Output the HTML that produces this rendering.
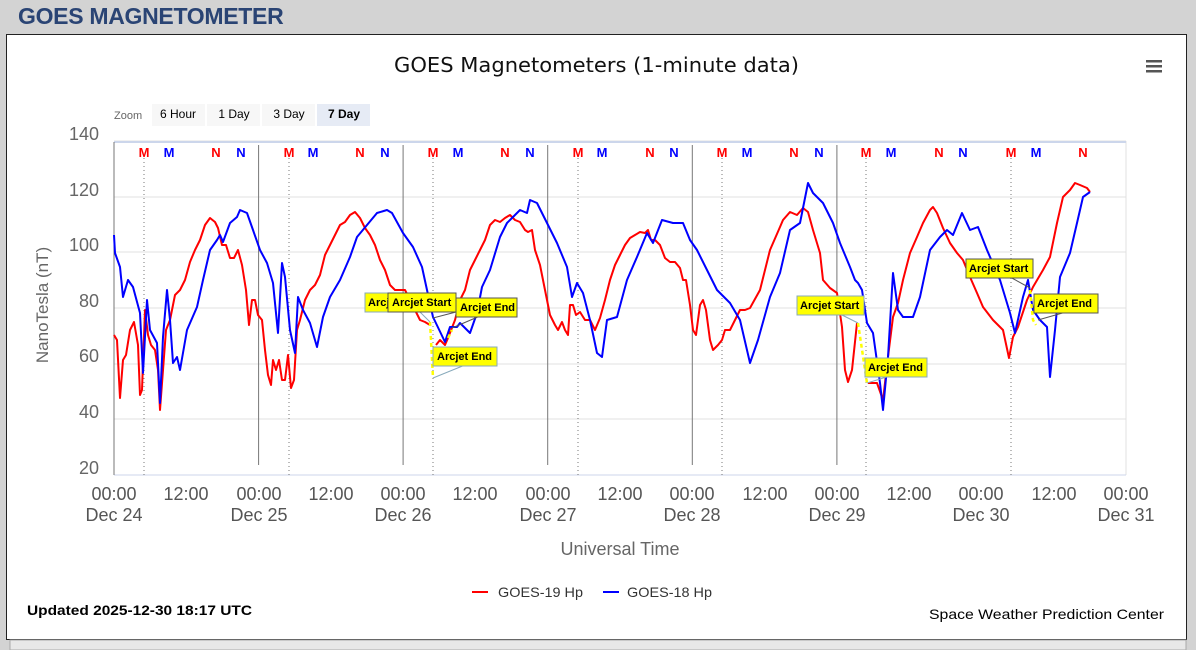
<!DOCTYPE html>
<html><head><meta charset="utf-8"><style>
body{margin:0;width:1196px;height:650px;background:#d3d3d3;overflow:hidden;font-family:"Liberation Sans",sans-serif}
.h{position:absolute;left:18px;top:3px;font-weight:bold;font-size:23px;color:#2a4474;letter-spacing:-0.3px}
.box{position:absolute;left:6px;top:34px;width:1179px;height:604px;background:#fff;border:1px solid #222}
</style></head><body>
<div class="h">GOES MAGNETOMETER</div>
<div class="box"></div>
<svg width="1196" height="650" style="position:absolute;left:0;top:0" font-family="Liberation Sans, sans-serif">
<rect x="10" y="640" width="1176" height="10" fill="#e8e8e8" stroke="#aaa"/>
<text x="394" y="72" font-size="20" fill="#111" font-family="DejaVu Sans, sans-serif" textLength="405" lengthAdjust="spacingAndGlyphs">GOES Magnetometers (1-minute data)</text>
<g fill="#555"><rect x="1146" y="60" width="16" height="2.5"/><rect x="1146" y="65" width="16" height="2.5"/><rect x="1146" y="70" width="16" height="2.5"/></g>
<text x="114" y="119" font-size="11" fill="#666">Zoom</text>
<rect x="152" y="104" width="53" height="22" fill="#f7f7f7"/><text x="178" y="118" font-size="12" text-anchor="middle">6 Hour</text>
<rect x="207" y="104" width="53" height="22" fill="#f7f7f7"/><text x="234" y="118" font-size="12" text-anchor="middle">1 Day</text>
<rect x="262" y="104" width="53" height="22" fill="#f7f7f7"/><text x="289" y="118" font-size="12" text-anchor="middle">3 Day</text>
<rect x="317" y="104" width="53" height="22" fill="#e6ebf5"/><text x="344" y="118" font-size="12" font-weight="bold" text-anchor="middle">7 Day</text>
<g stroke="#e0e0e0"><line x1="114" x2="1126" y1="141" y2="141"/><line x1="114" x2="1126" y1="197" y2="197"/><line x1="114" x2="1126" y1="252" y2="252"/><line x1="114" x2="1126" y1="308" y2="308"/><line x1="114" x2="1126" y1="364" y2="364"/><line x1="114" x2="1126" y1="419" y2="419"/><line x1="1126" x2="1126" y1="141" y2="475"/></g>
<line x1="114" x2="1126" y1="142" y2="142" stroke="#ccd6eb" stroke-width="2"/>
<line x1="114" x2="1126" y1="475" y2="475" stroke="#ccd6eb"/>
<g fill="#666" font-size="18" text-anchor="end"><text x="99" y="140">140</text><text x="99" y="251">100</text><text x="99" y="196">120</text><text x="99" y="307">80</text><text x="99" y="362">60</text><text x="99" y="418">40</text><text x="99" y="474">20</text></g>
<text transform="translate(48,305) rotate(-90)" text-anchor="middle" font-size="17" fill="#666">NanoTesla (nT)</text>
<g stroke="#777"><line x1="114" x2="114" y1="142" y2="475"/><line x1="258.6" x2="258.6" y1="145" y2="465"/><line x1="403.1" x2="403.1" y1="145" y2="465"/><line x1="547.7" x2="547.7" y1="145" y2="465"/><line x1="692.3" x2="692.3" y1="145" y2="465"/><line x1="836.9" x2="836.9" y1="145" y2="465"/></g>
<g stroke="#777" stroke-dasharray="1,3"><line x1="144" x2="144" y1="158" y2="475"/><line x1="289" x2="289" y1="158" y2="475"/><line x1="433" x2="433" y1="158" y2="475"/><line x1="578" x2="578" y1="158" y2="475"/><line x1="722" x2="722" y1="158" y2="475"/><line x1="866" x2="866" y1="158" y2="475"/><line x1="1011" x2="1011" y1="158" y2="475"/></g>
<g font-size="13" font-weight="bold" text-anchor="middle">
<text x="144" y="157" fill="red">M</text><text x="169" y="157" fill="#00f">M</text><text x="216" y="157" fill="red">N</text><text x="241" y="157" fill="#00f">N</text>
<text x="289" y="157" fill="red">M</text><text x="313" y="157" fill="#00f">M</text><text x="360" y="157" fill="red">N</text><text x="385" y="157" fill="#00f">N</text>
<text x="433" y="157" fill="red">M</text><text x="458" y="157" fill="#00f">M</text><text x="505" y="157" fill="red">N</text><text x="530" y="157" fill="#00f">N</text>
<text x="578" y="157" fill="red">M</text><text x="602" y="157" fill="#00f">M</text><text x="650" y="157" fill="red">N</text><text x="674" y="157" fill="#00f">N</text>
<text x="722" y="157" fill="red">M</text><text x="747" y="157" fill="#00f">M</text><text x="794" y="157" fill="red">N</text><text x="819" y="157" fill="#00f">N</text>
<text x="866" y="157" fill="red">M</text><text x="891" y="157" fill="#00f">M</text><text x="939" y="157" fill="red">N</text><text x="963" y="157" fill="#00f">N</text>
<text x="1011" y="157" fill="red">M</text><text x="1036" y="157" fill="#00f">M</text><text x="1083" y="157" fill="red">N</text></g>
<g fill="#555" font-size="18" text-anchor="middle">
<text x="114" y="500">00:00</text><text x="114" y="521">Dec 24</text><text x="186" y="500">12:00</text>
<text x="259" y="500">00:00</text><text x="259" y="521">Dec 25</text><text x="331" y="500">12:00</text>
<text x="403" y="500">00:00</text><text x="403" y="521">Dec 26</text><text x="475" y="500">12:00</text>
<text x="548" y="500">00:00</text><text x="548" y="521">Dec 27</text><text x="620" y="500">12:00</text>
<text x="692" y="500">00:00</text><text x="692" y="521">Dec 28</text><text x="765" y="500">12:00</text>
<text x="837" y="500">00:00</text><text x="837" y="521">Dec 29</text><text x="909" y="500">12:00</text>
<text x="981" y="500">00:00</text><text x="981" y="521">Dec 30</text><text x="1054" y="500">12:00</text>
<text x="1126" y="500">00:00</text><text x="1126" y="521">Dec 31</text></g>
<text x="620" y="555" text-anchor="middle" font-size="18" fill="#666">Universal Time</text>
<polyline fill="none" stroke="red" stroke-width="2" stroke-linejoin="round" points="114,335 117,340 120,398 123,360 126,355 130,330 134,322 138,345 140,395 142,390 145,310 148,335 151,345 155,350 158,370 160,410 163,370 166,330 170,320 175,295 180,290 185,280 190,262 195,250 200,240 205,225 210,218 215,222 218,228 222,245 226,245 230,258 234,258 238,250 242,265 246,290 249,325 252,300 255,300 258,315 262,320 265,350 268,375 271,385 273,360 276,370 279,360 282,380 285,380 288,355 291,388 294,380 297,330 300,320 305,300 310,290 315,285 320,275 325,255 330,245 335,235 340,225 345,222 350,215 355,212 360,218 365,228 370,235 375,245 380,260 385,270 390,285 395,290 400,290 405,290 410,300 415,310 420,320 425,322 430,325"/>
<polyline fill="none" stroke="red" stroke-width="2" stroke-linejoin="round" points="436,345 440,340 445,345 448,338 455,320 460,300 465,290 470,270 475,260 480,250 485,240 490,225 495,220 500,222 505,218 510,215 515,220 520,222 525,230 528,232 532,230 535,250 540,265 545,290 550,315 555,325 558,330 562,322 565,330 568,335 570,305 573,305 576,315 580,312 585,320 590,320 595,330 600,318 605,300 610,280 615,265 620,255 625,245 630,238 635,235 640,232 645,233 648,230 651,240 655,240 660,245 665,258 670,262 675,262 680,268 683,280 686,280 690,305 693,330 696,335 700,305 703,300 706,310 710,340 713,350 718,345 722,340 725,330 730,330 735,320 740,310 745,310 750,308 760,290 770,250 780,227 783,220 790,212 797,215 803,208 808,212 813,230 820,253 823,280 830,288 837,293 842,327 845,370 848,382 852,370 857,323"/>
<polyline fill="none" stroke="red" stroke-width="2" stroke-linejoin="round" points="868,383 877,383 883,400 888,357 893,317 898,303 903,280 910,253 917,237 923,223 930,210 933,207 937,213 943,228 950,243 957,253 963,260 970,277 977,293 983,307 993,320 1003,330 1009,358 1013,337 1018,327 1027,300 1033,287 1043,270 1050,257 1057,223 1063,197 1070,190 1075,183 1080,185 1087,188 1090,192"/>
<polyline fill="none" stroke="#00f" stroke-width="2" stroke-linejoin="round" points="114,235 115,253 120,267 123,297 128,280 133,287 140,313 143,373 147,300 150,330 157,343 160,403 163,337 167,290 170,320 173,363 177,357 180,370 187,330 197,307 203,280 210,250 217,240 220,235 223,242 230,223 237,217 240,210 247,213 253,230 260,250 267,263 273,283 278,333 282,263 285,277 290,330 295,353 298,297 303,310 310,323 317,347 323,317 330,297 340,280 350,257 357,237 367,225 377,213 387,210 392,213 403,233 413,247 422,267 427,290 433,317 445,342 450,327 457,327 460,323 470,333 477,313 482,287 490,270 500,237 507,223 513,217 520,210 527,213 530,200 537,203 547,223 557,243 567,267 572,297 577,283 583,293 590,320 597,353 602,357 607,320 617,317 627,280 637,257 647,233 653,243 662,220 673,223 683,223 690,240 697,250 707,270 717,290 730,303 740,320 750,363 758,340 770,297 780,273 790,230 800,223 808,183 813,193 823,203 833,223 840,243 850,267 855,280 858,283 862,290 867,323 873,333 880,383 883,410 888,357 893,273 898,310 903,317 913,317 920,297 930,250 940,237 947,230 953,235 962,213 970,230 978,227 987,250 1000,280 1010,313 1015,333 1023,297 1028,280 1033,310 1040,320 1047,327 1050,377 1055,330 1060,277 1070,253 1077,223 1083,197 1090,192"/>
<g stroke="yellow" stroke-width="2.5" stroke-dasharray="4,3" fill="none"><polyline points="430,322 433,378"/><polyline points="448,338 452,330"/><polyline points="858,323 867,383"/><polyline points="1030,290 1033,320 1036,325"/></g>
<g stroke="#8ab" fill="none"><line x1="420" y1="312" x2="430" y2="322"/><line x1="465" y1="365" x2="433" y2="378"/><line x1="840" y1="314" x2="858" y2="323"/><line x1="890" y1="376" x2="867" y2="383"/></g>
<g stroke="#555" fill="none"><line x1="456" y1="312" x2="433" y2="318"/><line x1="480" y1="316" x2="452" y2="328"/><line x1="1010" y1="277" x2="1030" y2="288"/><line x1="1066" y1="312" x2="1038" y2="320"/></g>
<g font-size="11" font-weight="bold" fill="#000">
<rect x="365" y="293" width="30" height="19" fill="yellow" stroke="#8ab"/><text x="368" y="306">Arcj</text>
<rect x="388" y="293" width="68" height="19" fill="yellow" stroke="#555"/><text x="392" y="306">Arcjet Start</text>
<rect x="456" y="298" width="61" height="19" fill="yellow" stroke="#555"/><text x="460" y="311">Arcjet End</text>
<rect x="433" y="347" width="64" height="19" fill="yellow" stroke="#8ab"/><text x="437" y="360">Arcjet End</text>
<rect x="797" y="296" width="67" height="19" fill="yellow" stroke="#8ab"/><text x="800" y="309">Arcjet Start</text>
<rect x="865" y="358" width="62" height="19" fill="yellow" stroke="#8ab"/><text x="868" y="371">Arcjet End</text>
<rect x="966" y="259" width="67" height="19" fill="yellow" stroke="#555"/><text x="969" y="272">Arcjet Start</text>
<rect x="1034" y="294" width="64" height="19" fill="yellow" stroke="#555"/><text x="1037" y="307">Arcjet End</text></g>
<line x1="472" x2="488" y1="592" y2="592" stroke="red" stroke-width="2"/><text x="498" y="597" font-size="14" fill="#333" textLength="85" lengthAdjust="spacingAndGlyphs">GOES-19 Hp</text>
<line x1="603" x2="619" y1="592" y2="592" stroke="#00f" stroke-width="2"/><text x="627" y="597" font-size="14" fill="#333" textLength="85" lengthAdjust="spacingAndGlyphs">GOES-18 Hp</text>
<text x="27" y="615" font-size="14" font-weight="bold" fill="#000" textLength="225" lengthAdjust="spacingAndGlyphs">Updated 2025-12-30 18:17 UTC</text>
<text x="929" y="619" font-size="14" fill="#000" textLength="235" lengthAdjust="spacingAndGlyphs">Space Weather Prediction Center</text>
</svg>
</body></html>
